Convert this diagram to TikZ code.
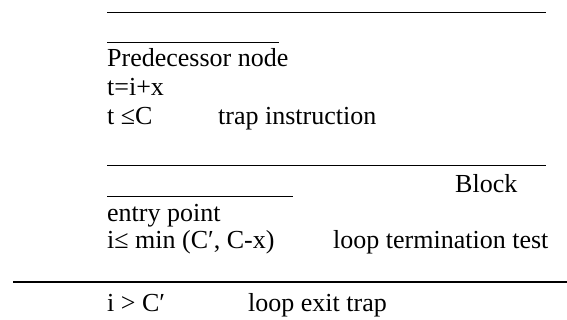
\documentclass[tikz,border=0pt]{standalone}
\usepackage{fontspec}
\setmainfont{Liberation Serif}
\begin{document}
\begin{tikzpicture}[x=1pt,y=-1pt,
  txt/.style={anchor=base west,inner sep=0pt,font=\fontsize{26}{30}\selectfont},
  rule/.style={line width=1pt},
  heavy/.style={line width=2.7pt}]
\useasboundingbox (0,0) rectangle (567,320);
% rule end points
\coordinate (r1a) at (107,12.5);  \coordinate (r1b) at (546,12.5);
\coordinate (r2a) at (107,43);    \coordinate (r2b) at (279,43);
\coordinate (r3a) at (107,166);   \coordinate (r3b) at (546,166);
\coordinate (r4a) at (107,197);   \coordinate (r4b) at (293,197);
\coordinate (r5a) at (13,282);    \coordinate (r5b) at (567,282);
\draw[rule] (r1a) -- (r1b);
\draw[rule] (r2a) -- (r2b);
\draw[rule] (r3a) -- (r3b);
\draw[rule] (r4a) -- (r4b);
\draw[heavy] (r5a) -- (r5b);
% predecessor node
\node[txt] (pred) at (107,67) {Predecessor node};
\node[txt] (tdef) at (107,96) {t=i+x};
\node[txt] (ttest) at (107,125) {t ≤C};
\node[txt] (trap) at (218,125) {trap instruction};
% block
\node[txt] (block) at (455,193) {Block};
\node[txt] (entry) at (107,222) {entry point};
\node[txt] (itest) at (107,248) {i≤ min (C′, C-x)};
\node[txt] (term) at (333,248) {loop termination test};
\node[txt] (iexit) at (107,311) {i > C′};
\node[txt] (exit) at (248,311) {loop exit trap};
\end{tikzpicture}
\end{document}
